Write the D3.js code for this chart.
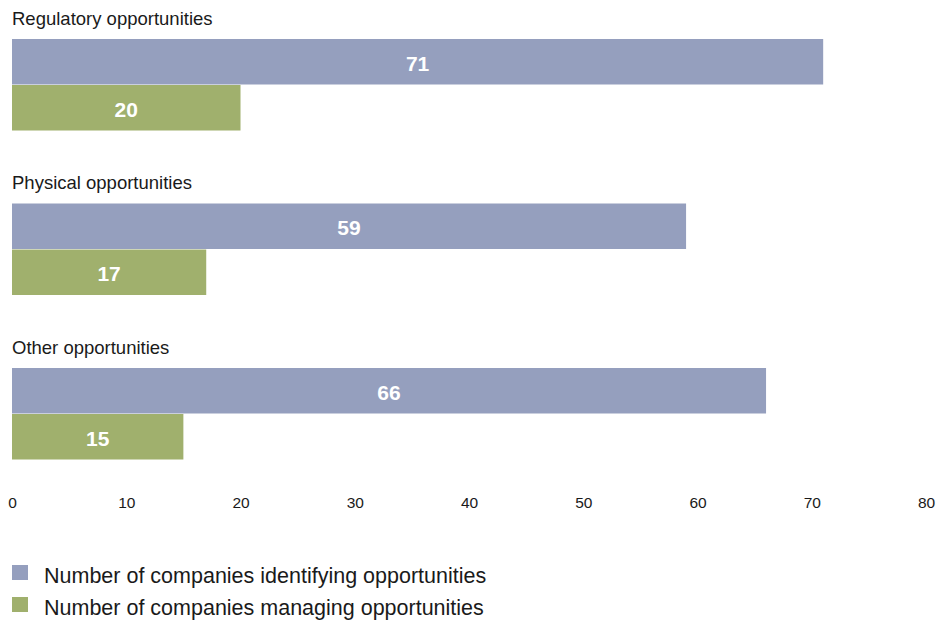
<!DOCTYPE html>
<html>
<head>
<meta charset="utf-8">
<script src="https://cdn.jsdelivr.net/npm/d3@7/dist/d3.min.js"></script>
<style>
  html, body { margin: 0; padding: 0; background: #fff; }
  svg { display: block; font-family: "Liberation Sans", Arial, Helvetica, sans-serif; }
</style>
</head>
<body>
<svg id="chart" width="946" height="620"></svg>
<script>
// Opportunities: how many companies identify them vs. manage them
const categories = ["Regulatory opportunities", "Physical opportunities", "Other opportunities"];
const seriesNames = ["Number of companies identifying opportunities", "Number of companies managing opportunities"];
const identifying = [71, 59, 66];
const managing = [20, 17, 15];
const tickValues = [0, 10, 20, 30, 40, 50, 60, 70, 80];
const colors = ["#959fbe", "#a0b06d"];

const svg = d3.select("#chart");

const x = d3.scaleLinear().domain([0, 80]).range([12, 926]);

const y = d3.scaleBand()
  .domain(categories)
  .range([39, 460])
  .paddingInner(0.4407)
  .paddingOuter(0);

const ySeries = d3.scaleBand()
  .domain(seriesNames)
  .range([0, y.bandwidth()])
  .padding(0);

const rows = categories.map((c, i) => ({
  category: c,
  values: [
    { series: seriesNames[0], value: identifying[i], color: colors[0] },
    { series: seriesNames[1], value: managing[i], color: colors[1] }
  ]
}));

const group = svg.selectAll("g.group")
  .data(rows)
  .join("g")
  .attr("class", "group")
  .attr("transform", d => `translate(0,${y(d.category)})`);

// Category titles above each pair of bars
group.append("text")
  .attr("x", 12)
  .attr("y", -14)
  .attr("font-size", 18.5)
  .attr("fill", "#1a1a1a")
  .text(d => d.category);

group.selectAll("rect")
  .data(d => d.values)
  .join("rect")
  .attr("x", x(0))
  .attr("y", d => ySeries(d.series))
  .attr("width", d => x(d.value) - x(0))
  .attr("height", ySeries.bandwidth() - 0.5)
  .attr("fill", d => d.color);

group.selectAll("text.value")
  .data(d => d.values)
  .join("text")
  .attr("class", "value")
  .attr("x", d => (x(0) + x(d.value)) / 2)
  .attr("y", d => ySeries(d.series) + ySeries.bandwidth() / 2 + 9)
  .attr("text-anchor", "middle")
  .attr("font-size", 21)
  .attr("font-weight", "bold")
  .attr("fill", "#ffffff")
  .text(d => d.value);

// Bottom axis: labels only, no domain line or tick marks
const axis = svg.append("g")
  .attr("transform", "translate(0,497)")
  .call(d3.axisBottom(x).tickValues(tickValues).tickSize(0).tickPadding(0))
  .call(g => g.select(".domain").remove());
axis.attr("font-family", null).attr("font-size", null);
axis.selectAll("text")
  .attr("font-size", 15.5)
  .attr("fill", "#1a1a1a")
  .attr("dy", "0.71em");

// Legend
const legend = svg.append("g")
  .selectAll("g")
  .data(seriesNames)
  .join("g")
  .attr("transform", (d, i) => `translate(12,${565 + i * 32})`);

legend.append("rect")
  .attr("width", 16)
  .attr("height", 15)
  .attr("fill", (d, i) => colors[i]);

legend.append("text")
  .attr("x", 32)
  .attr("y", 18)
  .attr("font-size", 21.5)
  .attr("fill", "#1a1a1a")
  .text(d => d);
</script>
</body>
</html>
